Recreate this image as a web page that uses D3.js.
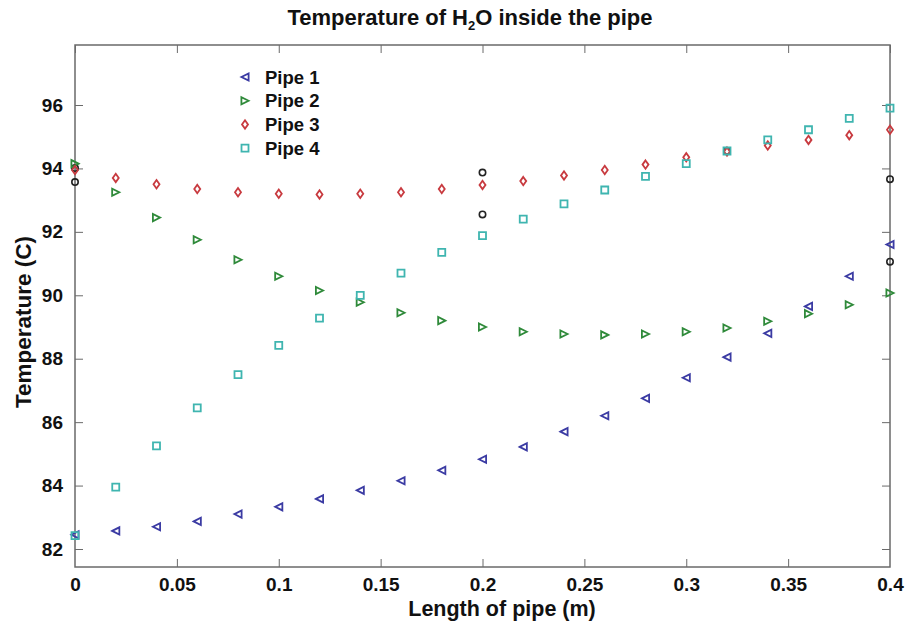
<!DOCTYPE html>
<html><head><meta charset="utf-8">
<script src="https://cdn.jsdelivr.net/npm/d3@7"></script>
<style>body{margin:0;background:#fff}svg{display:block;font-family:Arial,"Liberation Sans",sans-serif}</style>
</head><body><svg id="c" width="905" height="623"></svg>
<script>
const xVals = [0,0.02,0.04,0.06,0.08,0.1,0.12,0.14,0.16,0.18,0.2,0.22,0.24,0.26,0.28,0.3,0.32,0.34,0.36,0.38,0.4];
const pipe1 = [82.45,82.57,82.7,82.87,83.1,83.33,83.58,83.85,84.15,84.48,84.83,85.22,85.7,86.2,86.75,87.4,88.05,88.8,89.65,90.6,91.6];
const pipe2 = [94.15,93.25,92.45,91.75,91.12,90.6,90.15,89.78,89.45,89.2,89.0,88.85,88.78,88.75,88.78,88.85,88.97,89.18,89.42,89.7,90.07];
const pipe3 = [93.95,93.7,93.5,93.35,93.25,93.2,93.18,93.2,93.25,93.35,93.48,93.6,93.78,93.95,94.12,94.35,94.53,94.72,94.9,95.05,95.22];
const pipe4 = [82.42,83.95,85.25,86.45,87.5,88.42,89.28,90.0,90.7,91.35,91.88,92.4,92.88,93.32,93.75,94.15,94.55,94.9,95.22,95.58,95.9];
const extraX = [0,0,0.2,0.2,0.32,0.4,0.4];
const extraY = [94.01,93.57,93.87,92.55,94.55,93.66,91.06];
const xTicks = [0,0.05,0.1,0.15,0.2,0.25,0.3,0.35,0.4];
const xTickLabels = ["0","0.05","0.1","0.15","0.2","0.25","0.3","0.35","0.4"];
const yTicks = [82,84,86,88,90,92,94,96];
const seriesNames = ["Pipe 1","Pipe 2","Pipe 3","Pipe 4"];
const seriesColors = ["#3b3ba3","#2f8a3a","#c83a3f","#3fb5b0"];
const seriesShapes = ["left","right","diamond","square"];

const svg = d3.select("#c");
const L=75, R=890, T=45, B=567;
const x = d3.scaleLinear().domain([0,0.4]).range([L,R]);
const y = d3.scaleLinear().domain([82,96]).range([549,105]);

const axisCol = "#6a6a6a";
svg.append("rect").attr("x",L).attr("y",T).attr("width",R-L).attr("height",B-T)
  .attr("fill","none").attr("stroke",axisCol).attr("stroke-width",1.5);

const gx = svg.append("g").attr("transform",`translate(0,${B})`)
  .call(d3.axisBottom(x).tickValues(xTicks).tickFormat((d,i)=>xTickLabels[i]).tickSize(-8).tickPadding(11));
const gxt = svg.append("g").attr("transform",`translate(0,${T})`)
  .call(d3.axisTop(x).tickValues(xTicks).tickFormat("").tickSize(-8));
const gy = svg.append("g").attr("transform",`translate(${L},0)`)
  .call(d3.axisLeft(y).tickValues(yTicks).tickSize(-8).tickPadding(12));
const gyr = svg.append("g").attr("transform",`translate(${R},0)`)
  .call(d3.axisRight(y).tickValues(yTicks).tickFormat("").tickSize(-8));
[gx,gxt,gy,gyr].forEach(g=>{
  g.select(".domain").remove();
  g.selectAll(".tick line").attr("stroke",axisCol).attr("stroke-width",1);
  g.selectAll("text").attr("fill","#111").attr("font-size",19).attr("font-weight","bold").attr("font-family","Arial,'Liberation Sans',sans-serif");
});
gx.selectAll(".tick").filter(d=>d===0||d===0.4).select("line").remove();

function drawShape(g, shape, color, cx, cy){
  const s = 3.6;
  let p;
  if(shape==="left") p = `M${cx-s},${cy} L${cx+s},${cy-s} L${cx+s},${cy+s} Z`;
  else if(shape==="right") p = `M${cx+s},${cy} L${cx-s},${cy-s} L${cx-s},${cy+s} Z`;
  else if(shape==="diamond") p = `M${cx},${cy-s-0.6} L${cx+s-0.6},${cy} L${cx},${cy+s+0.6} L${cx-s+0.6},${cy} Z`;
  else p = `M${cx-3.5},${cy-3.5} h7 v7 h-7 Z`;
  g.append("path").attr("d",p).attr("fill","none").attr("stroke",color).attr("stroke-width",1.8).attr("stroke-linejoin","miter");
}

const data = [pipe1,pipe2,pipe3,pipe4];
const marks = svg.append("g");
extraX.forEach((xv,i)=>{
  marks.append("circle").attr("cx",x(xv)).attr("cy",y(extraY[i])).attr("r",3.2)
    .attr("fill","none").attr("stroke","#222").attr("stroke-width",1.6);
});
data.forEach((vals,si)=>{
  vals.forEach((v,i)=>drawShape(marks, seriesShapes[si], seriesColors[si], x(xVals[i]), y(v)));
});

const lg = svg.append("g");
seriesNames.forEach((n,i)=>{
  const yy = 77 + i*23.7;
  drawShape(lg, seriesShapes[i], seriesColors[i], 245, yy);
  lg.append("text").attr("x",265).attr("y",yy+6.5).text(n)
    .attr("font-size",18.5).attr("font-weight","bold").attr("fill","#111");
});

const title = svg.append("text").attr("x",470).attr("y",25).attr("text-anchor","middle")
  .attr("font-size",22).attr("font-weight","bold").attr("fill","#111")
  .attr("font-family","'Liberation Sans Narrow','Arial Narrow',Arial,sans-serif");
title.append("tspan").text("Temperature of H");
title.append("tspan").text("2").attr("font-size",13).attr("dy",5);
title.append("tspan").text("O inside the pipe").attr("dy",-5);

svg.append("text").attr("x",502).attr("y",616).attr("text-anchor","middle")
  .attr("font-size",21.5).attr("font-weight","bold").attr("fill","#111").text("Length of pipe (m)");
svg.append("text").attr("transform",`translate(31,322) rotate(-90)`).attr("text-anchor","middle")
  .attr("font-size",22.5).attr("font-weight","bold").attr("fill","#111").text("Temperature (C)");
</script></body></html>
